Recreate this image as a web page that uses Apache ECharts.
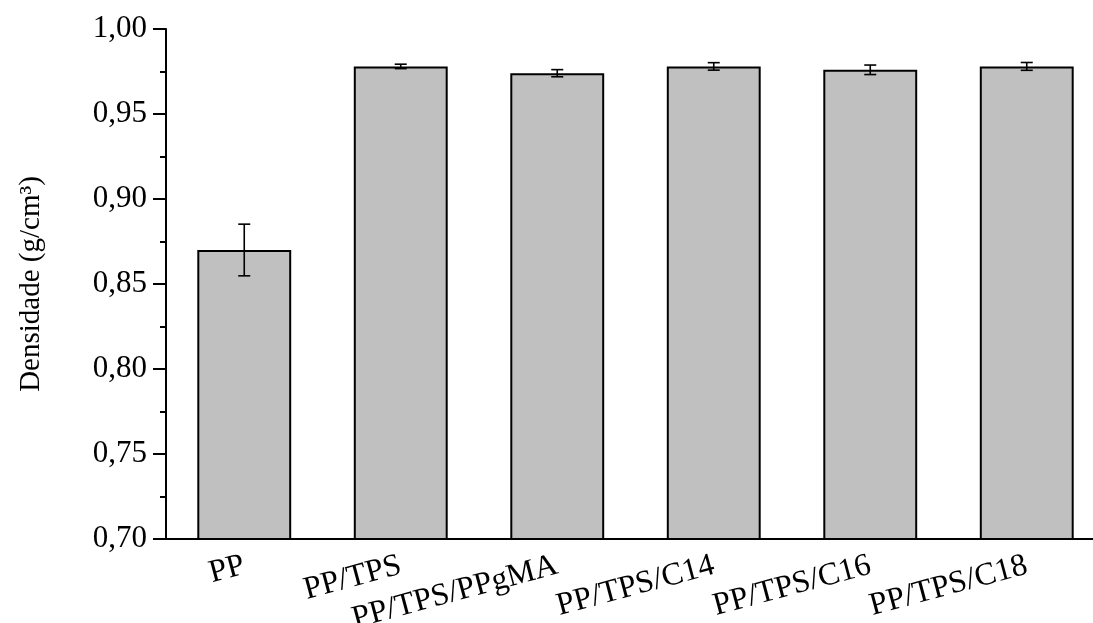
<!DOCTYPE html>
<html>
<head>
<meta charset="utf-8">
<script src="https://cdn.jsdelivr.net/npm/echarts@6/dist/echarts.min.js"></script>
<style>html,body{margin:0;padding:0;background:#fff;}#c{width:1093px;height:623px;}</style>
</head>
<body>
<div id="c"></div>
<script>
var categories = ['PP', 'PP/TPS', 'PP/TPS/PPgMA', 'PP/TPS/C14', 'PP/TPS/C16', 'PP/TPS/C18'];
var densities = [0.870, 0.978, 0.974, 0.978, 0.976, 0.978];
var errors = [0.0152, 0.0013, 0.0021, 0.0022, 0.0028, 0.0023];
var yAxisName = 'Densidade (g/cm³)';

var errData = categories.map(function (c, i) {
  return [i, densities[i] - errors[i], densities[i] + errors[i]];
});

var font = '"Liberation Serif", "Times New Roman", serif';
var chart = echarts.init(document.getElementById('c'), null, {renderer: 'canvas'});
chart.setOption({
  animation: false,
  backgroundColor: '#fff',
  grid: {left: 166, top: 29, bottom: 84, width: 939, containLabel: false, outerBoundsMode: 'none'},
  xAxis: [{
    type: 'category',
    data: categories,
    axisLine: {lineStyle: {color: '#000', width: 2}},
    axisTick: {alignWithLabel: true, length: 10, lineStyle: {color: '#000', width: 2}},
    axisLabel: {rotate: 15, margin: 26, color: '#000', fontFamily: font, fontSize: 32, interval: 0},
    splitLine: {show: false}
  }, {
    type: 'category',
    data: categories,
    position: 'bottom',
    axisLine: {show: false},
    axisTick: {length: 5, lineStyle: {color: '#000', width: 2}},
    axisLabel: {show: false},
    splitLine: {show: false}
  }],
  yAxis: {
    type: 'value',
    min: 0.70, max: 1.00, interval: 0.05,
    name: yAxisName,
    nameLocation: 'middle',
    nameRotate: 90,
    nameGap: 120,
    nameTextStyle: {color: '#000', fontFamily: font, fontSize: 29},
    axisLine: {show: true, lineStyle: {color: '#000', width: 2}},
    axisTick: {show: true, length: 13, lineStyle: {color: '#000', width: 2}},
    minorTick: {show: true, splitNumber: 2, length: 6, lineStyle: {color: '#000', width: 2}},
    axisLabel: {
      margin: 19, color: '#000', fontFamily: font, fontSize: 31,
      formatter: function (v) { return v.toFixed(2).replace('.', ','); }
    },
    splitLine: {show: false}
  },
  series: [{
    type: 'bar',
    data: densities,
    xAxisIndex: 0,
    barWidth: '60%',
    itemStyle: {color: '#c0c0c0', borderColor: '#000', borderWidth: 2}
  }, {
    type: 'custom',
    xAxisIndex: 0,
    data: errData,
    z: 10,
    renderItem: function (params, api) {
      var x = api.value(0);
      var lo = api.coord([x, api.value(1)]);
      var hi = api.coord([x, api.value(2)]);
      var w = 6;
      var st = {stroke: '#000', lineWidth: 1.6};
      return {
        type: 'group',
        children: [
          {type: 'line', shape: {x1: lo[0], y1: lo[1], x2: hi[0], y2: hi[1]}, style: st},
          {type: 'line', shape: {x1: lo[0] - w, y1: lo[1], x2: lo[0] + w, y2: lo[1]}, style: st},
          {type: 'line', shape: {x1: hi[0] - w, y1: hi[1], x2: hi[0] + w, y2: hi[1]}, style: st}
        ]
      };
    }
  }]
});
</script>
</body>
</html>
